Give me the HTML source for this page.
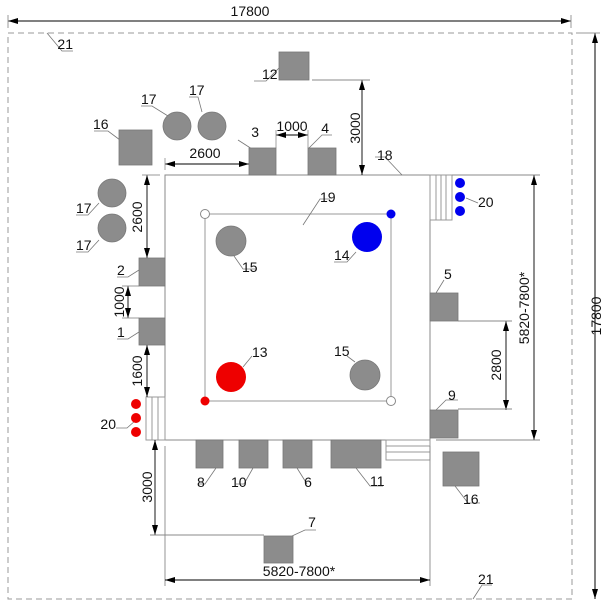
<!DOCTYPE html>
<html><head><meta charset="utf-8"><style>
html,body{margin:0;padding:0;background:#fff;}
svg{display:block;}
text{font-family:"Liberation Sans",Arial,sans-serif;font-size:14px;fill:#111;}
</style></head><body>
<svg width="608" height="606" viewBox="0 0 608 606" xmlns="http://www.w3.org/2000/svg">
<defs>
<marker id="a" viewBox="0 0 10 6" refX="10" refY="3" markerWidth="10" markerHeight="6" orient="auto-start-reverse" markerUnits="userSpaceOnUse"><path d="M0,0 L10,3 L0,6 z" fill="#000"/></marker>
</defs>
<g fill="none" stroke="#000" stroke-width="1">
<rect x="8" y="33" width="564" height="566" stroke="#999" stroke-dasharray="6,4"/>
<line x1="8" y1="21" x2="571" y2="21" marker-start="url(#a)" marker-end="url(#a)"/>
<line x1="8" y1="15" x2="8" y2="28" stroke="#999"/>
<line x1="571" y1="15" x2="571" y2="28" stroke="#999"/>
<line x1="595" y1="33" x2="595" y2="599" marker-start="url(#a)" marker-end="url(#a)"/>
<line x1="576" y1="33" x2="600" y2="33" stroke="#999"/>
<rect x="165" y="175" width="265" height="265" stroke="#888"/>
<rect x="205" y="214" width="186" height="187" stroke="#999"/>
<g stroke="#999"><rect x="430" y="175" width="22" height="45"/><line x1="436" y1="175" x2="436" y2="220"/><line x1="441" y1="175" x2="441" y2="220"/><line x1="446" y1="175" x2="446" y2="220"/></g>
<g stroke="#999"><rect x="386" y="440" width="44" height="20"/><line x1="386" y1="446" x2="430" y2="446"/><line x1="386" y1="452" x2="430" y2="452"/></g>
<g stroke="#999"><rect x="146" y="397" width="19" height="43"/><line x1="152" y1="397" x2="152" y2="440"/><line x1="158" y1="397" x2="158" y2="440"/></g>
<g stroke-width="0.9">
<line x1="165" y1="164" x2="249" y2="164" marker-start="url(#a)" marker-end="url(#a)"/>
<line x1="165" y1="158" x2="165" y2="170" stroke="#999"/>
<line x1="276" y1="135" x2="308" y2="135" marker-start="url(#a)" marker-end="url(#a)"/>
<line x1="276" y1="130" x2="276" y2="148" stroke="#999"/><line x1="308" y1="130" x2="308" y2="148" stroke="#999"/>
<line x1="362" y1="80" x2="362" y2="175" marker-start="url(#a)" marker-end="url(#a)"/>
<line x1="312" y1="80" x2="370" y2="80" stroke="#888"/>
<line x1="147" y1="175" x2="147" y2="258" marker-start="url(#a)" marker-end="url(#a)"/>
<line x1="142" y1="175" x2="160" y2="175" stroke="#999"/>
<line x1="128" y1="286" x2="128" y2="318" marker-start="url(#a)" marker-end="url(#a)"/>
<line x1="122" y1="286" x2="139" y2="286" stroke="#999"/><line x1="122" y1="318" x2="139" y2="318" stroke="#999"/>
<line x1="147" y1="345" x2="147" y2="397" marker-start="url(#a)" marker-end="url(#a)"/>
<line x1="155" y1="440" x2="155" y2="535" marker-start="url(#a)" marker-end="url(#a)"/>
<line x1="150" y1="535" x2="264" y2="535" stroke="#888"/>
<line x1="165" y1="446" x2="165" y2="586" stroke="#888"/><line x1="430" y1="446" x2="430" y2="586" stroke="#888"/>
<line x1="165" y1="580" x2="430" y2="580" marker-start="url(#a)" marker-end="url(#a)"/>
<line x1="506" y1="321" x2="506" y2="410" marker-start="url(#a)" marker-end="url(#a)"/>
<line x1="458" y1="321" x2="512" y2="321" stroke="#888"/><line x1="458" y1="409" x2="512" y2="409" stroke="#888"/>
<line x1="534" y1="175" x2="534" y2="440" marker-start="url(#a)" marker-end="url(#a)"/>
<line x1="452" y1="175" x2="540" y2="175" stroke="#888"/><line x1="436" y1="440" x2="540" y2="440" stroke="#888"/>
</g>
<g stroke="#777" stroke-width="0.8">
<path d="M47,33 L62,51 L73,51"/>
<path d="M279,68 L266,81 L254,81"/>
<path d="M120,140 L108,131 L94,131"/>
<path d="M168,116 L152,106 L141,106"/>
<path d="M202,112 L198,97 L189,97"/>
<path d="M252,149 L238,140"/>
<path d="M308,149 L322,135 L332,135"/>
<path d="M99,203 L88,215 L76,215"/>
<path d="M99,240 L88,252 L76,252"/>
<path d="M139,270 L128,277 L117,277"/>
<path d="M139,332 L128,339 L117,339"/>
<path d="M136,420 L127,428 L116,428"/>
<path d="M466,198 L478,203"/>
<path d="M402,175 L385,157 L375,157"/>
<path d="M303,225 L320,199 L330,199"/>
<path d="M234,256 L243,269 L256,269"/>
<path d="M356,252 L347,262 L334,262"/>
<path d="M243,367 L252,356"/>
<path d="M355,362 L347,356"/>
<path d="M436,293 L444,280"/>
<path d="M436,410 L446,400 L458,400"/>
<path d="M216,468 L205,484 L198,484"/>
<path d="M253,468 L244,484 L236,484"/>
<path d="M297,468 L307,484"/>
<path d="M356,468 L370,486 L383,486"/>
<path d="M455,486 L468,503 L480,503"/>
<path d="M292,536 L305,530 L316,530"/>
<path d="M473,599 L482,585 L492,585"/>
</g>
</g>
<g fill="#8c8c8c" stroke="#777" stroke-width="0.8">
<rect x="279" y="52" width="30" height="28"/>
<rect x="119" y="130" width="33" height="35"/>
<rect x="249" y="148" width="27" height="27"/>
<rect x="308" y="148" width="28" height="27"/>
<rect x="139" y="258" width="26" height="28"/>
<rect x="139" y="318" width="26" height="27"/>
<rect x="430" y="293" width="28" height="28"/>
<rect x="430" y="410" width="28" height="28"/>
<rect x="196" y="440" width="27" height="28"/>
<rect x="239" y="440" width="29" height="28"/>
<rect x="283" y="440" width="29" height="28"/>
<rect x="331" y="440" width="50" height="28"/>
<rect x="443" y="452" width="36" height="34"/>
<rect x="264" y="536" width="29" height="27"/>
<circle cx="177" cy="126" r="14"/><circle cx="212" cy="126" r="14"/>
<circle cx="112" cy="193" r="14"/><circle cx="112" cy="228" r="14"/>
<circle cx="231" cy="241" r="15"/><circle cx="365" cy="375" r="15"/>
</g>
<circle cx="367" cy="237" r="15" fill="#0000ee"/>
<circle cx="231" cy="377" r="15" fill="#ee0000"/>
<circle cx="205" cy="214" r="4.5" fill="#fff" stroke="#888"/>
<circle cx="391" cy="214" r="4.5" fill="#0000ee"/>
<circle cx="205" cy="401" r="4.5" fill="#ee0000"/>
<circle cx="391" cy="401" r="4.5" fill="#fff" stroke="#888"/>
<g fill="#0000ee"><circle cx="460" cy="183" r="5"/><circle cx="460" cy="197" r="5"/><circle cx="460" cy="211" r="5"/></g>
<g fill="#ee0000"><circle cx="136" cy="404" r="5"/><circle cx="136" cy="418" r="5"/><circle cx="136" cy="432" r="5"/></g>
<text x="250" y="16" text-anchor="middle">17800</text>
<text transform="translate(601,316) rotate(-90)" text-anchor="middle">17800</text>
<text x="73" y="49" text-anchor="end">21</text>
<text x="262" y="79">12</text>
<text x="141" y="104">17</text>
<text x="189" y="95">17</text>
<text x="93" y="129">16</text>
<text x="259" y="137" text-anchor="end">3</text>
<text x="292" y="131" text-anchor="middle">1000</text>
<text x="329" y="133" text-anchor="end">4</text>
<text x="205" y="158" text-anchor="middle">2600</text>
<text transform="translate(360,128) rotate(-90)" text-anchor="middle">3000</text>
<text x="377" y="160">18</text>
<text x="320" y="202">19</text>
<text x="478" y="207">20</text>
<text transform="translate(142,217) rotate(-90)" text-anchor="middle">2600</text>
<text x="76" y="213">17</text>
<text x="76" y="250">17</text>
<text x="117" y="275">2</text>
<text transform="translate(124,302) rotate(-90)" text-anchor="middle">1000</text>
<text x="117" y="337">1</text>
<text transform="translate(142,371) rotate(-90)" text-anchor="middle">1600</text>
<text x="116" y="429" text-anchor="end">20</text>
<text x="242" y="272">15</text>
<text x="334" y="260">14</text>
<text x="252" y="357">13</text>
<text x="334" y="356">15</text>
<text x="444" y="279">5</text>
<text x="448" y="400">9</text>
<text transform="translate(501,365) rotate(-90)" text-anchor="middle">2800</text>
<text transform="translate(529,308) rotate(-90)" text-anchor="middle">5820-7800*</text>
<text x="197" y="487">8</text>
<text x="231" y="487">10</text>
<text x="308" y="487" text-anchor="middle">6</text>
<text x="370" y="486">11</text>
<text x="463" y="504">16</text>
<text transform="translate(152,487) rotate(-90)" text-anchor="middle">3000</text>
<text x="312" y="527" text-anchor="middle">7</text>
<text x="299" y="576" text-anchor="middle">5820-7800*</text>
<text x="478" y="584">21</text>
</svg>
</body></html>
